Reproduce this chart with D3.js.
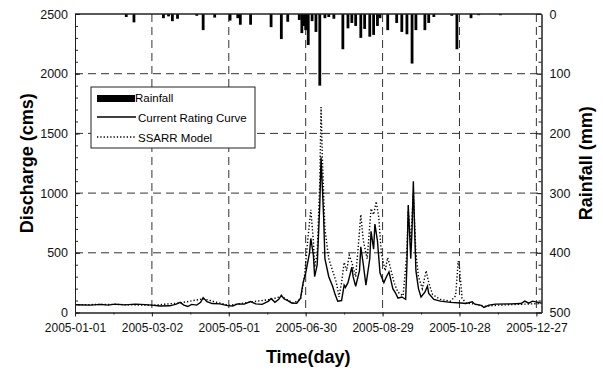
<!DOCTYPE html>
<html>
<head>
<meta charset="utf-8">
<script src="https://cdn.jsdelivr.net/npm/d3@7"></script>
<style>
  body { margin: 0; background: #fff; }
  svg { font-family: "Liberation Sans", Arial, sans-serif; }
  .tick text { font-size: 12px; fill: #111; }
  .axis path, .axis line { stroke: #222; }
</style>
</head>
<body>
<div id="chart"></div>
<script>
// day offsets from 2005-01-01
var xTickDays = [0, 60, 120, 180, 240, 300, 360];
var yTicks = [0, 500, 1000, 1500, 2000, 2500];
var rainTicks = [0, 100, 200, 300, 400, 500];

var rainDays = [40, 46, 69, 73, 76, 80, 95, 100, 109, 121, 127, 129, 137, 153, 161, 166, 175, 177, 179, 180, 182, 185, 188, 191, 195, 198, 202, 209, 213, 216, 219, 223, 226, 230, 233, 236, 238, 244, 251, 255, 259, 263, 266, 273, 276, 280, 294, 298, 309, 315, 332];
var rainMm = [5, 14, 7, 4, 12, 8, 3, 27, 6, 11, 7, 18, 18, 22, 42, 13, 10, 32, 20, 27, 52, 12, 30, 120, 7, 5, 8, 59, 24, 15, 20, 40, 25, 38, 35, 20, 7, 27, 15, 30, 34, 83, 27, 27, 15, 5, 3, 59, 7, 2, 2];

var ratingDays = [0, 12, 20, 26, 31, 39, 47, 55, 60, 66, 74, 79, 82, 85, 88, 91, 95, 98, 100, 103, 107, 113, 119, 123, 127, 132, 137, 141, 146, 151, 153, 156, 159, 161, 163, 166, 169, 173, 176, 178, 180, 183, 184, 186, 187, 189, 191, 192, 194, 195, 198, 201, 203, 205, 208, 210, 211, 213, 216, 217, 219, 222, 223, 225, 227, 230, 231, 233, 234, 236, 238, 241, 243, 245, 248, 250, 252, 255, 258, 259, 260, 262, 263, 264, 265, 266, 268, 270, 273, 275, 276, 280, 285, 293, 301, 305, 310, 312, 317, 319, 323, 328, 340, 348, 351, 354, 357, 364];
var ratingCms = [65, 62, 68, 62, 70, 64, 70, 66, 62, 55, 56, 70, 85, 62, 50, 68, 62, 85, 125, 90, 75, 72, 58, 55, 72, 70, 92, 72, 68, 95, 118, 85, 110, 145, 115, 100, 80, 78, 120, 250, 330, 500, 620, 480, 300, 400, 900, 1300, 800, 450, 300, 220, 150, 95, 100, 230, 210, 250, 380, 300, 220, 350, 550, 400, 230, 450, 680, 530, 740, 600, 330, 250, 300, 340, 200, 165, 120, 130, 110, 400, 900, 450, 700, 1100, 700, 350, 200, 130, 170, 220, 160, 110, 95, 85, 80, 75, 90, 70, 60, 42, 62, 70, 72, 75, 95, 78, 95, 78];

var ssarrDays = [0, 30, 60, 82, 100, 120, 137, 153, 161, 170, 176, 179, 182, 184, 186, 187, 189, 191, 192, 193, 195, 198, 201, 204, 206, 208, 210, 212, 214, 216, 219, 221, 223, 225, 228, 231, 233, 235, 237, 239, 242, 244, 246, 249, 252, 256, 259, 260, 262, 263, 264, 266, 268, 271, 274, 276, 279, 285, 293, 297, 299, 300, 302, 305, 312, 319, 330, 364];
var ssarrCms = [65, 68, 60, 80, 115, 60, 88, 110, 135, 80, 110, 300, 650, 860, 600, 380, 500, 1100, 1720, 1300, 700, 450, 350, 250, 130, 250, 420, 350, 480, 420, 300, 550, 820, 600, 450, 870, 820, 930, 800, 500, 350, 460, 380, 250, 170, 140, 500, 850, 600, 800, 1000, 500, 300, 200, 350, 250, 150, 110, 95, 140, 430, 380, 120, 80, 70, 50, 62, 75];

var width = 603, height = 370;
var pLeft = 75, pRight = 541.5, pTop = 14, pBottom = 312.5;
var start = new Date(2005, 0, 1);
function dayDate(d) { return d3.timeDay.offset(start, d); }

var svg = d3.select("#chart").append("svg")
    .attr("width", width)
    .attr("height", height);

var x = d3.scaleTime()
    .domain([dayDate(0), dayDate(364)])
    .range([pLeft, pRight]);
var y = d3.scaleLinear().domain([0, 2500]).range([pBottom, pTop]);
var yRain = d3.scaleLinear().domain([0, 500]).range([pTop, pBottom]);

//grid
var grid = svg.append("g")
    .attr("stroke", "#333")
    .attr("stroke-width", 1)
    .attr("stroke-dasharray", "8,5");
grid.selectAll(".hg").data(yTicks.slice(1, -1)).enter().append("line")
    .attr("x1", pLeft).attr("x2", pRight)
    .attr("y1", d => y(d)).attr("y2", d => y(d));
grid.selectAll(".vg").data(xTickDays.slice(1)).enter().append("line")
    .attr("x1", d => x(dayDate(d))).attr("x2", d => x(dayDate(d)))
    .attr("y1", pTop).attr("y2", pBottom);

//rainfall bars hanging from top
svg.append("g").selectAll("rect")
    .data(rainDays.map((d, i) => ({day: d, mm: rainMm[i]})))
    .enter().append("rect")
    .attr("x", d => x(dayDate(d.day)) - 1.4)
    .attr("y", pTop)
    .attr("width", 2.8)
    .attr("height", d => yRain(d.mm) - pTop)
    .attr("fill", "#000");

var line = d3.line()
    .x(d => x(dayDate(d[0])))
    .y(d => y(d[1]));

svg.append("path")
    .datum(ssarrDays.map((d, i) => [d, ssarrCms[i]]))
    .attr("d", line)
    .attr("fill", "none")
    .attr("stroke", "#000")
    .attr("stroke-width", 1.4)
    .attr("stroke-dasharray", "1.3,2");

svg.append("path")
    .datum(ratingDays.map((d, i) => [d, ratingCms[i]]))
    .attr("d", line)
    .attr("fill", "none")
    .attr("stroke", "#000")
    .attr("stroke-width", 1.4);

//axes
svg.append("g").attr("class", "axis")
    .attr("transform", "translate(" + pLeft + ",0)")
    .call(d3.axisLeft(y).tickValues(d3.range(0, 2501, 100)).tickSize(-3).tickFormat("").tickSizeOuter(0));
svg.append("g").attr("class", "axis")
    .attr("transform", "translate(" + pLeft + ",0)")
    .call(d3.axisLeft(y).tickValues(yTicks).tickSize(-5).tickPadding(7)
        .tickFormat(d3.format("d")).tickSizeOuter(0))
    .selectAll("text").style("font-size", "12.5px");

svg.append("g").attr("class", "axis")
    .attr("transform", "translate(" + pRight + ",0)")
    .call(d3.axisRight(yRain).tickValues(d3.range(0, 501, 20)).tickSize(-3).tickFormat("").tickSizeOuter(0));
svg.append("g").attr("class", "axis")
    .attr("transform", "translate(" + pRight + ",0)")
    .call(d3.axisRight(yRain).tickValues(rainTicks).tickSize(-5).tickPadding(8)
        .tickFormat(d3.format("d")).tickSizeOuter(0))
    .selectAll("text").style("font-size", "12.5px");

svg.append("g").attr("class", "axis")
    .attr("transform", "translate(0," + pBottom + ")")
    .call(d3.axisBottom(x).tickValues(d3.range(0, 365, 30).map(dayDate)).tickSize(2).tickFormat("").tickSizeOuter(0));
svg.append("g").attr("class", "axis")
    .attr("transform", "translate(0," + pBottom + ")")
    .call(d3.axisBottom(x).tickValues(xTickDays.map(dayDate)).tickSize(4).tickPadding(7)
        .tickFormat(d3.timeFormat("%Y-%m-%d")).tickSizeOuter(0));

//top frame line
svg.append("line")
    .attr("x1", pLeft).attr("x2", pRight).attr("y1", pTop).attr("y2", pTop)
    .attr("stroke", "#222").attr("stroke-width", 1.3);

//titles
svg.append("text")
    .attr("transform", "translate(33," + ((pTop + pBottom) / 2) + ") rotate(-90)")
    .attr("text-anchor", "middle")
    .style("font-size", "18px").style("font-weight", "bold")
    .text("Discharge (cms)");
svg.append("text")
    .attr("transform", "translate(592," + ((pTop + pBottom) / 2) + ") rotate(-90)")
    .attr("text-anchor", "middle")
    .style("font-size", "18px").style("font-weight", "bold")
    .text("Rainfall (mm)");
svg.append("text")
    .attr("x", (pLeft + pRight) / 2).attr("y", 363)
    .attr("text-anchor", "middle")
    .style("font-size", "18px").style("font-weight", "bold")
    .text("Time(day)");

//legend
var legend = svg.append("g").attr("transform", "translate(91,87)");
legend.append("rect")
    .attr("width", 164).attr("height", 61)
    .attr("fill", "#fff").attr("stroke", "#222").attr("stroke-width", 1);
legend.append("rect")
    .attr("x", 6).attr("y", 8).attr("width", 38).attr("height", 7).attr("fill", "#000");
legend.append("line")
    .attr("x1", 6).attr("x2", 45).attr("y1", 30).attr("y2", 30)
    .attr("stroke", "#000").attr("stroke-width", 1.4);
legend.append("line")
    .attr("x1", 6).attr("x2", 45).attr("y1", 50).attr("y2", 50)
    .attr("stroke", "#000").attr("stroke-width", 1.4).attr("stroke-dasharray", "1.3,2");
legend.selectAll(".lt")
    .data(["Rainfall", "Current Rating Curve", "SSARR Model"])
    .enter().append("text")
    .attr("x", (d, i) => i == 0 ? 44 : 47)
    .attr("y", (d, i) => 15 + i * 20)
    .style("font-size", "11.5px")
    .text(d => d);
</script>
</body>
</html>
